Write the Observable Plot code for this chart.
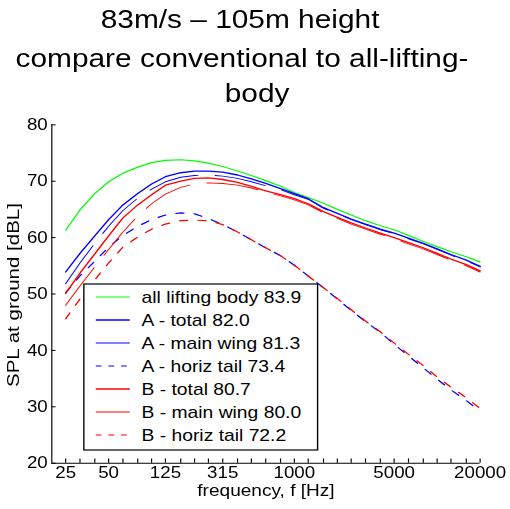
<!DOCTYPE html>
<html><head><meta charset="utf-8">
<script src="https://cdn.jsdelivr.net/npm/d3@7"></script>
<script src="https://cdn.jsdelivr.net/npm/@observablehq/plot@0.6"></script>
<style>
html,body{margin:0;padding:0;background:#fff;}
#wrap{position:absolute;left:0;top:0;width:444px;height:509px;transform:scaleX(1.1486);transform-origin:0 0;font-family:"Liberation Sans",Arial,sans-serif;}
#wrap svg{position:absolute;overflow:visible;}
</style></head><body><div id="wrap"></div>
<script>
// ---- data ----
const titleLines = ["83m/s \u2013 105m height", "compare conventional to all-lifting-", "body"];
const xLabel = "frequency, f [Hz]";
const yLabel = "SPL at ground [dBL]";
const freq = [25,31.5,40,50,63,80,100,125,160,200,250,315,400,500,630,800,1000,1250,1600,2000,2500,3150,4000,5000,6300,8000,10000,12500,16000,20000];
const xTickLabels = [25,50,125,315,1000,5000,20000];
const yTicks = [20,30,40,50,60,70,80];
const allLifting = [61.3,64.9,67.8,69.9,71.4,72.5,73.3,73.7,73.8,73.6,73.2,72.6,71.8,71.0,70.1,69.1,68.0,67.1,66.1,65.0,64.0,63.0,62.1,61.4,60.4,59.3,58.4,57.5,56.6,55.7];
const aTotal = [53.9,57.2,60.3,63.2,65.8,67.8,69.5,70.8,71.5,71.8,71.8,71.6,71.1,70.4,69.6,68.7,67.8,66.9,65.3,64.3,63.3,62.4,61.5,60.8,59.9,59.0,58.0,57.0,56.0,54.9];
const aMain = [51.8,55.5,59.0,62.0,64.8,67.0,68.6,69.9,70.7,71.0,71.1,70.9,70.5,69.9,69.2,68.5,67.6,66.8,65.2,64.2,63.2,62.3,61.4,60.7,59.8,58.9,57.9,56.9,55.9,54.8];
const aTail = [50.2,53.2,55.8,58.3,60.4,62.0,63.2,64.0,64.4,64.2,63.4,62.3,61.0,59.6,58.2,56.8,55.1,53.2,51.1,49.1,47.1,45.1,43.2,41.1,39.0,36.9,34.9,33.0,31.1,29.2];
const bTotal = [50.1,53.7,57.1,60.3,63.5,65.8,67.6,69.3,70.0,70.5,70.6,70.3,69.8,69.1,68.3,67.6,66.9,66.0,64.6,63.6,62.6,61.7,60.8,60.0,59.1,58.2,57.2,56.2,55.2,54.1];
const bMain = [48.0,51.4,54.8,57.9,61.0,63.8,66.0,67.7,68.9,69.5,69.7,69.6,69.3,68.8,68.1,67.4,66.7,65.8,64.4,63.4,62.4,61.5,60.6,59.8,58.9,58.0,57.0,56.0,55.0,53.9];
const bTail = [45.6,49.1,52.5,55.5,58.3,60.1,61.5,62.4,63.0,63.1,63.0,62.3,61.0,59.6,58.2,56.8,55.1,53.2,51.1,49.2,47.2,45.2,43.3,41.3,39.3,37.3,35.3,33.5,31.6,29.7];
const seriesNames = ["all lifting body","A - total","A - main wing","A - horiz tail","B - total","B - main wing","B - horiz tail"];
const overallLevels = ["83.9","82.0","81.3","73.4","80.7","80.0","72.2"];
const seriesValues = [allLifting,aTotal,aMain,aTail,bTotal,bMain,bTail];
// ---- styles ----
const colors = ["#00ff00","#0000ff","#0000ff","#0000ff","#ff0000","#ff0000","#ff0000"];
const dashes = [null,null,"45,15","7,9",null,"45,15","7,9"];
const widths = [1.2,1.3,0.9,1.2,1.3,0.9,1.2];

const NS = "http://www.w3.org/2000/svg";
const wrap = document.getElementById("wrap");

// title
const tsvg = document.createElementNS(NS,"svg");
tsvg.setAttribute("width",444); tsvg.setAttribute("height",110);
tsvg.style.left="0px"; tsvg.style.top="0px";
const tPos = [[209,28.3],[210.7,66.7],[223.8,102]];
titleLines.forEach((s,i)=>{
  const t=document.createElementNS(NS,"text");
  t.setAttribute("x",tPos[i][0]); t.setAttribute("y",tPos[i][1]);
  t.setAttribute("text-anchor","middle");
  t.setAttribute("font-size","26");
  t.setAttribute("font-family","Liberation Sans, Arial, sans-serif");
  t.textContent=s; tsvg.appendChild(t);
});
wrap.appendChild(tsvg);

// plot
const W=444, H=399, ML=44.6, MR=26.5, MT=14.3, MB=46.3;
const frameW = W-ML-MR, frameH = H-MT-MB;
const rows = seriesValues.flatMap((vals,s)=>vals.map((v,i)=>({series:seriesNames[s], f:freq[i], spl:v})));
const chart = Plot.plot({
  width: W, height: H,
  marginLeft: ML, marginRight: MR, marginTop: MT, marginBottom: MB,
  style: {fontFamily:"Liberation Sans, Arial, sans-serif", fontSize:"16.3px", background:"transparent", color:"black", overflow:"visible"},
  x: {type:"log", domain:[20,20000], label:null, axis:null},
  y: {domain:[20,80], label:null, axis:null},
  marks: [
    ...seriesNames.map((name,s)=>Plot.line(rows.filter(r=>r.series===name),{x:"f", y:"spl", stroke:colors[s], strokeWidth:widths[s], strokeDasharray: dashes[s] ?? undefined})),
    Plot.ruleX([20],{stroke:"black", strokeWidth:1}),
    Plot.ruleY([20],{stroke:"black", strokeWidth:1}),
    Plot.tickX(freq,{x:d=>d, insetTop:frameH-4.3, stroke:"black", strokeWidth:1}),
    Plot.tickY(yTicks,{y:d=>d, insetRight:frameW-3.8, stroke:"black", strokeWidth:1}),
    Plot.text(xTickLabels,{x:d=>d, text:d=>String(d), frameAnchor:"bottom", dy:15, fontSize:16.3}),
    Plot.text(yTicks,{y:d=>d, text:d=>String(d), frameAnchor:"left", dx:-3.5, textAnchor:"end", fontSize:16.3}),
    Plot.text([xLabel],{frameAnchor:"bottom", dy:32.5, fontSize:16.6}),
    Plot.text([yLabel],{frameAnchor:"left", dx:-33.3, dy:93, rotate:-90, textAnchor:"start", fontSize:14.6})
  ]
});
chart.style.left="0px"; chart.style.top="110px";
wrap.appendChild(chart);
chart.querySelectorAll("text").forEach(t=>{
  if (t.textContent===yLabel){ t.setAttribute("textLength","184"); t.setAttribute("lengthAdjust","spacingAndGlyphs"); }
});

// legend
const lg = document.createElementNS(NS,"svg");
const LW=203.5, LH=166;
lg.setAttribute("width",LW+2); lg.setAttribute("height",LH+2);
lg.style.left=(73-1)+"px"; lg.style.top=(284-1)+"px";
const box=document.createElementNS(NS,"rect");
box.setAttribute("x",1); box.setAttribute("y",1); box.setAttribute("width",LW); box.setAttribute("height",LH);
box.setAttribute("fill","white"); box.setAttribute("stroke","black"); box.setAttribute("stroke-width","1.2");
lg.appendChild(box);
seriesNames.forEach((name,s)=>{
  const cy = 1+13+23*s;
  const l=document.createElementNS(NS,"line");
  l.setAttribute("x1",1+10.4); l.setAttribute("x2",1+40); l.setAttribute("y1",cy); l.setAttribute("y2",cy);
  l.setAttribute("stroke",colors[s]); l.setAttribute("stroke-width",widths[s]);
  if (dashes[s]) l.setAttribute("stroke-dasharray", dashes[s]==="7,9" ? "5,6" : dashes[s]);
  lg.appendChild(l);
  const t=document.createElementNS(NS,"text");
  t.setAttribute("x",1+50.2); t.setAttribute("y",cy+6);
  t.setAttribute("font-size","16.8"); t.setAttribute("font-family","Liberation Sans, Arial, sans-serif");
  t.textContent = name+" "+overallLevels[s];
  lg.appendChild(t);
});
wrap.appendChild(lg);
</script></body></html>
